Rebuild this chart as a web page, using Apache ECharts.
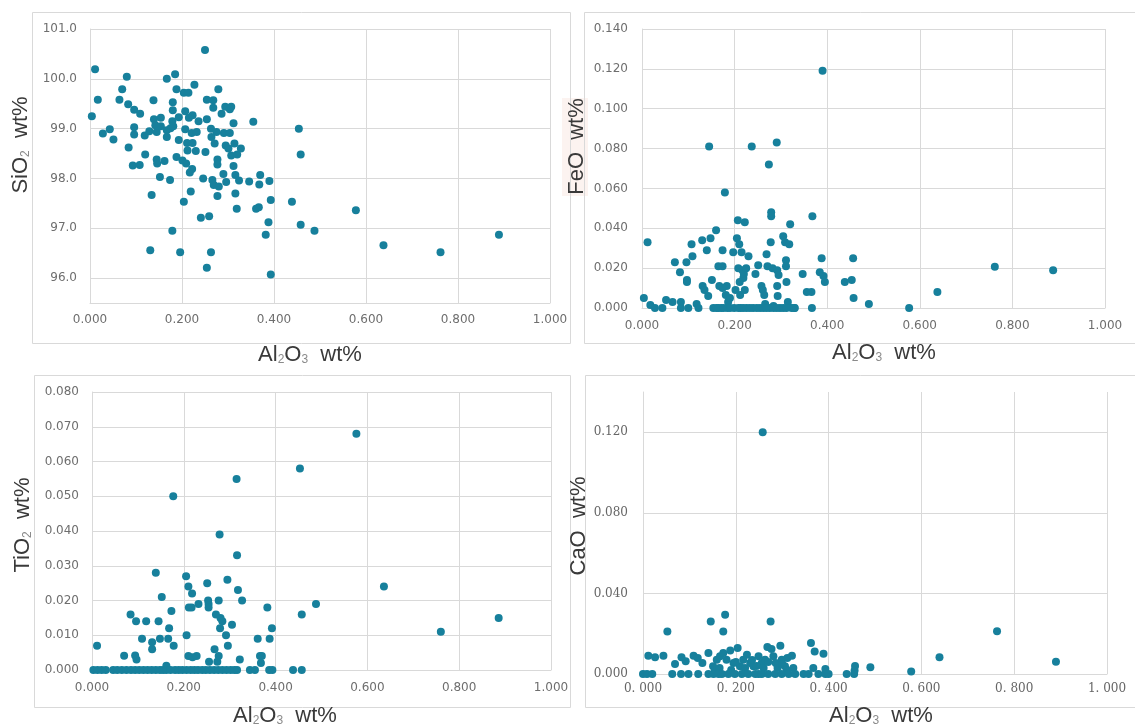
<!DOCTYPE html>
<html>
<head>
<meta charset="utf-8">
<script src="https://cdn.jsdelivr.net/npm/echarts@6/dist/echarts.min.js"></script>
<style>
html,body{margin:0;padding:0;background:#fff;}
#chart{width:1135px;height:728px;}
</style>
</head>
<body>
<div id="chart"></div>
<script>
// ---------- data (Al2O3 wt% vs oxide wt%) ----------
const alSi = [0.004,0.011,0.017,0.028,0.043,0.051,0.064,0.070,0.080,0.083,0.084,0.096,0.096,0.096,0.093,0.108,0.109,0.119,0.120,0.129,0.134,0.131,0.138,0.139,0.142,0.145,0.145,0.146,0.152,0.154,0.154,0.162,0.167,0.167,0.167,0.174,0.175,0.179,0.179,0.180,0.180,0.181,0.185,0.188,0.188,0.193,0.193,0.196,0.201,0.204,0.204,0.207,0.207,0.209,0.211,0.212,0.214,0.215,0.217,0.219,0.221,0.223,0.223,0.222,0.227,0.230,0.232,0.236,0.241,0.246,0.250,0.254,0.254,0.251,0.254,0.259,0.263,0.263,0.264,0.266,0.268,0.268,0.269,0.271,0.275,0.277,0.277,0.277,0.279,0.280,0.286,0.290,0.291,0.294,0.295,0.296,0.301,0.304,0.304,0.307,0.307,0.312,0.312,0.314,0.316,0.316,0.319,0.320,0.324,0.328,0.346,0.355,0.361,0.367,0.368,0.370,0.382,0.388,0.390,0.393,0.393,0.439,0.454,0.458,0.458,0.488,0.578,0.638,0.762,0.889];
const sio2 = [99.25,100.19,99.58,98.90,98.99,98.78,99.58,99.79,100.04,99.49,98.62,99.38,99.03,98.88,98.26,98.27,99.30,98.86,98.48,98.95,97.67,96.56,99.57,99.19,99.07,98.93,98.38,98.30,98.03,99.22,99.05,98.35,100.00,98.97,98.83,97.97,99.01,99.15,96.95,99.53,99.37,99.05,100.09,99.79,98.43,99.23,98.77,96.52,98.36,99.72,97.53,99.35,98.99,98.30,98.71,98.56,99.72,99.22,98.12,97.74,98.91,99.27,98.71,98.19,99.88,98.55,98.93,99.15,97.21,98.00,100.58,99.58,99.19,98.53,96.21,97.24,99.00,96.52,98.83,97.97,99.57,99.42,97.87,98.70,98.93,98.38,98.28,97.65,99.79,97.84,99.30,98.09,98.91,99.44,98.66,97.93,98.60,99.39,98.91,99.44,98.46,99.11,98.25,98.70,97.70,98.07,97.39,98.48,97.96,98.60,97.94,99.14,97.39,97.42,97.88,98.07,96.87,97.12,97.95,97.57,96.07,97.53,99.00,98.48,97.07,96.95,97.36,96.66,96.52,96.87];

const alFe = [0.004,0.012,0.018,0.028,0.044,0.052,0.066,0.071,0.082,0.084,0.084,0.096,0.097,0.097,0.100,0.107,0.109,0.118,0.122,0.130,0.131,0.135,0.140,0.143,0.145,0.148,0.151,0.154,0.160,0.161,0.165,0.167,0.171,0.174,0.174,0.174,0.179,0.181,0.183,0.184,0.186,0.190,0.197,0.199,0.202,0.205,0.207,0.208,0.210,0.211,0.212,0.213,0.215,0.217,0.219,0.220,0.222,0.222,0.225,0.226,0.230,0.237,0.240,0.245,0.251,0.255,0.258,0.261,0.264,0.266,0.269,0.271,0.274,0.276,0.278,0.279,0.279,0.282,0.284,0.291,0.292,0.292,0.293,0.295,0.298,0.305,0.309,0.311,0.311,0.312,0.315,0.318,0.320,0.323,0.329,0.347,0.356,0.366,0.367,0.368,0.384,0.388,0.390,0.392,0.395,0.438,0.453,0.456,0.457,0.490,0.577,0.638,0.762,0.888,0.165,0.176,0.190,0.208,0.219,0.233,0.248,0.262,0.269,0.284,0.291,0.305,0.312,0.330];
const feo = [0.005,0.033,0.0015,0,0,0.004,0.003,0.023,0.018,0.003,0,0.023,0.014,0.013,0,0.032,0.026,0.002,0,0.034,0.011,0.009,0.029,0.006,0.081,0.035,0.014,0,0.039,0,0.021,0.011,0,0.029,0.021,0.010,0.058,0.0065,0.011,0,0.003,0.005,0.028,0,0.009,0.035,0.044,0.020,0.032,0.013,0.0065,0,0.028,0.019,0.015,0.017,0.043,0.009,0.020,0,0.026,0.081,0,0.017,0.0215,0,0.011,0.009,0.0065,0.002,0.027,0.021,0.072,0,0.033,0.048,0.046,0.020,0.001,0.083,0.019,0.011,0.006,0.0166,0,0.036,0.033,0.024,0.021,0.013,0.003,0.032,0.042,0,0,0.017,0.008,0.008,0,0.046,0.018,0.025,0.119,0.016,0.013,0.013,0.014,0.025,0.005,0.002,0,0.008,0.0207,0.019,0,0,0,0,0,0,0,0,0,0,0,0,0,0];

const alTi = [0.011,0.070,0.084,0.094,0.096,0.097,0.109,0.118,0.131,0.131,0.139,0.145,0.148,0.152,0.162,0.166,0.168,0.173,0.177,0.178,0.205,0.206,0.210,0.210,0.211,0.217,0.218,0.219,0.228,0.232,0.251,0.253,0.254,0.254,0.255,0.267,0.270,0.273,0.276,0.276,0.278,0.279,0.280,0.284,0.292,0.295,0.296,0.305,0.315,0.316,0.318,0.322,0.327,0.361,0.366,0.368,0.370,0.382,0.387,0.392,0.453,0.457,0.488,0.576,0.636,0.760,0.886,
  0.003,0.012,0.021,0.030,0.046,0.055,0.065,0.075,0.085,0.094,0.103,0.112,0.121,0.130,0.139,0.148,0.155,0.162,0.171,0.181,0.189,0.197,0.206,0.215,0.223,0.231,0.240,0.248,0.257,0.266,0.275,0.284,0.293,0.302,0.310,0.316,0.344,0.355,0.386,0.393,0.438,0.457];
const tio2 = [0.007,0.0041,0.016,0.0042,0.014,0.003,0.009,0.014,0.008,0.006,0.028,0.014,0.009,0.021,0.0012,0.009,0.012,0.017,0.050,0.007,0.027,0.010,0.024,0.004,0.018,0.018,0.022,0.0037,0.004,0.019,0.025,0.020,0.019,0.018,0.0024,0.006,0.016,0.0024,0.004,0.020,0.039,0.012,0.015,0.014,0.010,0.026,0.007,0.013,0.055,0.033,0.023,0.003,0.020,0.009,0.004,0.002,0.004,0.018,0.009,0.012,0.058,0.016,0.019,0.068,0.024,0.011,0.015,
  0,0,0,0,0,0,0,0,0,0,0,0,0,0,0,0,0,0,0,0,0,0,0,0,0,0,0,0,0,0,0,0,0,0,0,0,0,0,0,0,0,0];

const alCa = [0.258,0.177,0.146,0.275,0.173,0.0525,0.0115,0.026,0.044,0.069,0.083,0.092,0.109,0.118,0.128,0.141,0.151,0.159,0.166,0.173,0.180,0.188,0.195,0.204,0.209,0.216,0.224,0.231,0.238,0.249,0.256,0.263,0.268,0.277,0.281,0.286,0.296,0.299,0.306,0.311,0.321,0.324,0.362,0.370,0.389,0.367,0.393,0.457,0.456,0.490,0.578,0.639,0.763,0.890,
  0.155,0.165,0.190,0.200,0.220,0.235,0.245,0.260,0.270,0.290,0.300,0.310,
  0,0.0086,0.020,0.063,0.082,0.098,0.119,0.141,0.152,0.163,0.170,0.184,0.198,0.213,0.227,0.242,0.249,0.256,0.270,0.285,0.299,0.314,0.328,0.346,0.357,0.378,0.393,0.400,0.439,0.455];
const cao = [0.120,0.0294,0.0261,0.0261,0.0211,0.0211,0.0091,0.0083,0.0091,0.005,0.0083,0.0063,0.0091,0.0079,0.0055,0.0104,0.0038,0.0071,0.0088,0.0104,0.0071,0.0117,0.0055,0.0129,0.0038,0.0071,0.0096,0.0055,0.0038,0.0088,0.0055,0.0071,0.0134,0.0124,0.0088,0.0055,0.014,0.0071,0.0038,0.0079,0.0091,0.003,0.0154,0.0112,0.0101,0.003,0.0025,0.004,0.0017,0.0033,0.0013,0.0083,0.0212,0.0061,
  0.002,0.003,0.002,0.006,0.003,0.007,0.004,0.003,0.006,0.003,0.005,0.002,
  0,0,0,0,0,0,0,0,0,0,0,0,0,0,0,0,0,0,0,0,0,0,0,0,0,0,0,0,0,0];

// axis labels
const xTitle = '{n|Al}{s|2}{n|O}{s|3}{n|  wt%}';
const yTitles = ['{n|SiO}{s|2}{n|  wt%}', '{n|FeO  wt%}', '{n|TiO}{s|2}{n|  wt%}', '{n|CaO  wt%}'];

// ---------- styling ----------
const GRID = '#d9d9d9';
const DOT = '#17809c';
const LBL = '#6e6e6e';
const rich = {
  n: {fontSize: 22, fontFamily: 'Liberation Sans', color: '#3a3a3a'},
  s: {fontSize: 12, fontFamily: 'Liberation Sans', color: '#8a8a8a', verticalAlign: 'bottom'}
};
const sansLbl = {fontFamily: 'DejaVu Sans', fontSize: 12, color: LBL};
const serifLbl = {fontFamily: 'DejaVu Serif', fontSize: 12, color: '#666'};

function xAxis(gi, gap, pad, margin, lbl, fmt) {
  return {
    type: 'value', gridIndex: gi, min: 0, max: 1, interval: 0.2,
    axisLine: {show: true, onZero: false, lineStyle: {color: GRID, width: 1}},
    axisTick: {show: false},
    splitLine: {show: true, lineStyle: {color: GRID, width: 1}},
    axisLabel: Object.assign({margin: margin, formatter: fmt || (v => v.toFixed(3))}, lbl),
    name: xTitle, nameLocation: 'middle', nameGap: gap,
    nameTextStyle: {rich: rich, padding: pad}
  };
}
function yAxis(gi, min, max, interval, gap, pad, margin, lbl, extra) {
  return Object.assign({
    type: 'value', gridIndex: gi, min: min, max: max, interval: interval,
    axisLine: {show: true, onZero: false, lineStyle: {color: GRID, width: 1}},
    axisTick: {show: false},
    splitLine: {show: true, lineStyle: {color: GRID, width: 1}},
    axisLabel: Object.assign({margin: margin, formatter: v => v.toFixed(3)}, lbl),
    name: yTitles[gi], nameLocation: 'middle', nameRotate: 90, nameGap: gap,
    nameTextStyle: {rich: rich, padding: pad}
  }, extra || {});
}
function pairs(xs, ys) { return xs.map((x, i) => [x, ys[i]]); }
function scat(gi, d) {
  return {type: 'scatter', xAxisIndex: gi, yAxisIndex: gi, data: d, symbolSize: 8,
          itemStyle: {color: DOT, opacity: 1}, silent: true, animation: false};
}

const y0 = yAxis(0, 95.5, 101, 0.5, 58, [0, 0, 0, 42], 13, sansLbl);
y0.axisLabel.formatter = v => Number.isInteger(Math.round(v * 1000) / 1000) ? v.toFixed(1) : '';
y0.axisLabel.interval = 0;
y0.splitLine.lineStyle.color = ['rgba(0,0,0,0)', GRID];

const y3 = yAxis(3, 0, 0.14, 0.04, 51, [0, 0, 0, 14], 15, serifLbl,
  {});
y3.axisLabel.showMaxLabel = false;
y3.splitLine.showMaxLine = false;

const option = {
  animation: false,
  backgroundColor: '#fff',
  graphic: [
    {type: 'rect', z: -10, shape: {x: 562, y: 98, width: 26, height: 98}, style: {fill: '#fcf3f0'}},
    {type: 'rect', z: -5, shape: {x: 32.5, y: 12.5, width: 538, height: 331}, style: {fill: 'none', stroke: GRID, lineWidth: 1}},
    {type: 'rect', z: -5, shape: {x: 584.5, y: 12.5, width: 560, height: 331}, style: {fill: 'none', stroke: GRID, lineWidth: 1}},
    {type: 'rect', z: -5, shape: {x: 34.5, y: 375.5, width: 536, height: 332}, style: {fill: 'none', stroke: GRID, lineWidth: 1}},
    {type: 'rect', z: -5, shape: {x: 585.5, y: 375.5, width: 560, height: 332}, style: {fill: 'none', stroke: GRID, lineWidth: 1}}
  ],
  grid: [
    {left: 90, top: 29, width: 460, height: 274},
    {left: 642, top: 29, width: 463, height: 279},
    {left: 92, top: 392, width: 459, height: 280},
    {left: 643, top: 392, width: 464, height: 284}
  ],
  xAxis: [
    xAxis(0, 41, [0, 20, 0, 0], 11, sansLbl),
    xAxis(1, 34, [0, 0, 0, 21], 12, sansLbl),
    xAxis(2, 35, [0, 73, 0, 0], 12, sansLbl),
    xAxis(3, 31, [0, 0, 0, 12], 9, serifLbl, v => v.toFixed(3).replace('.', '. '))
  ],
  yAxis: [
    y0,
    yAxis(1, 0, 0.14, 0.02, 54, [0, 0, 0, 44], 14, sansLbl),
    yAxis(2, 0, 0.08, 0.01, 58, [0, 0, 0, 12], 13, sansLbl),
    y3
  ],
  series: [
    scat(0, pairs(alSi, sio2)),
    scat(1, pairs(alFe, feo)),
    scat(2, pairs(alTi, tio2)),
    scat(3, pairs(alCa, cao))
  ]
};

const chart = echarts.init(document.getElementById('chart'), null, {renderer: 'canvas'});
chart.setOption(option);
</script>
</body>
</html>
